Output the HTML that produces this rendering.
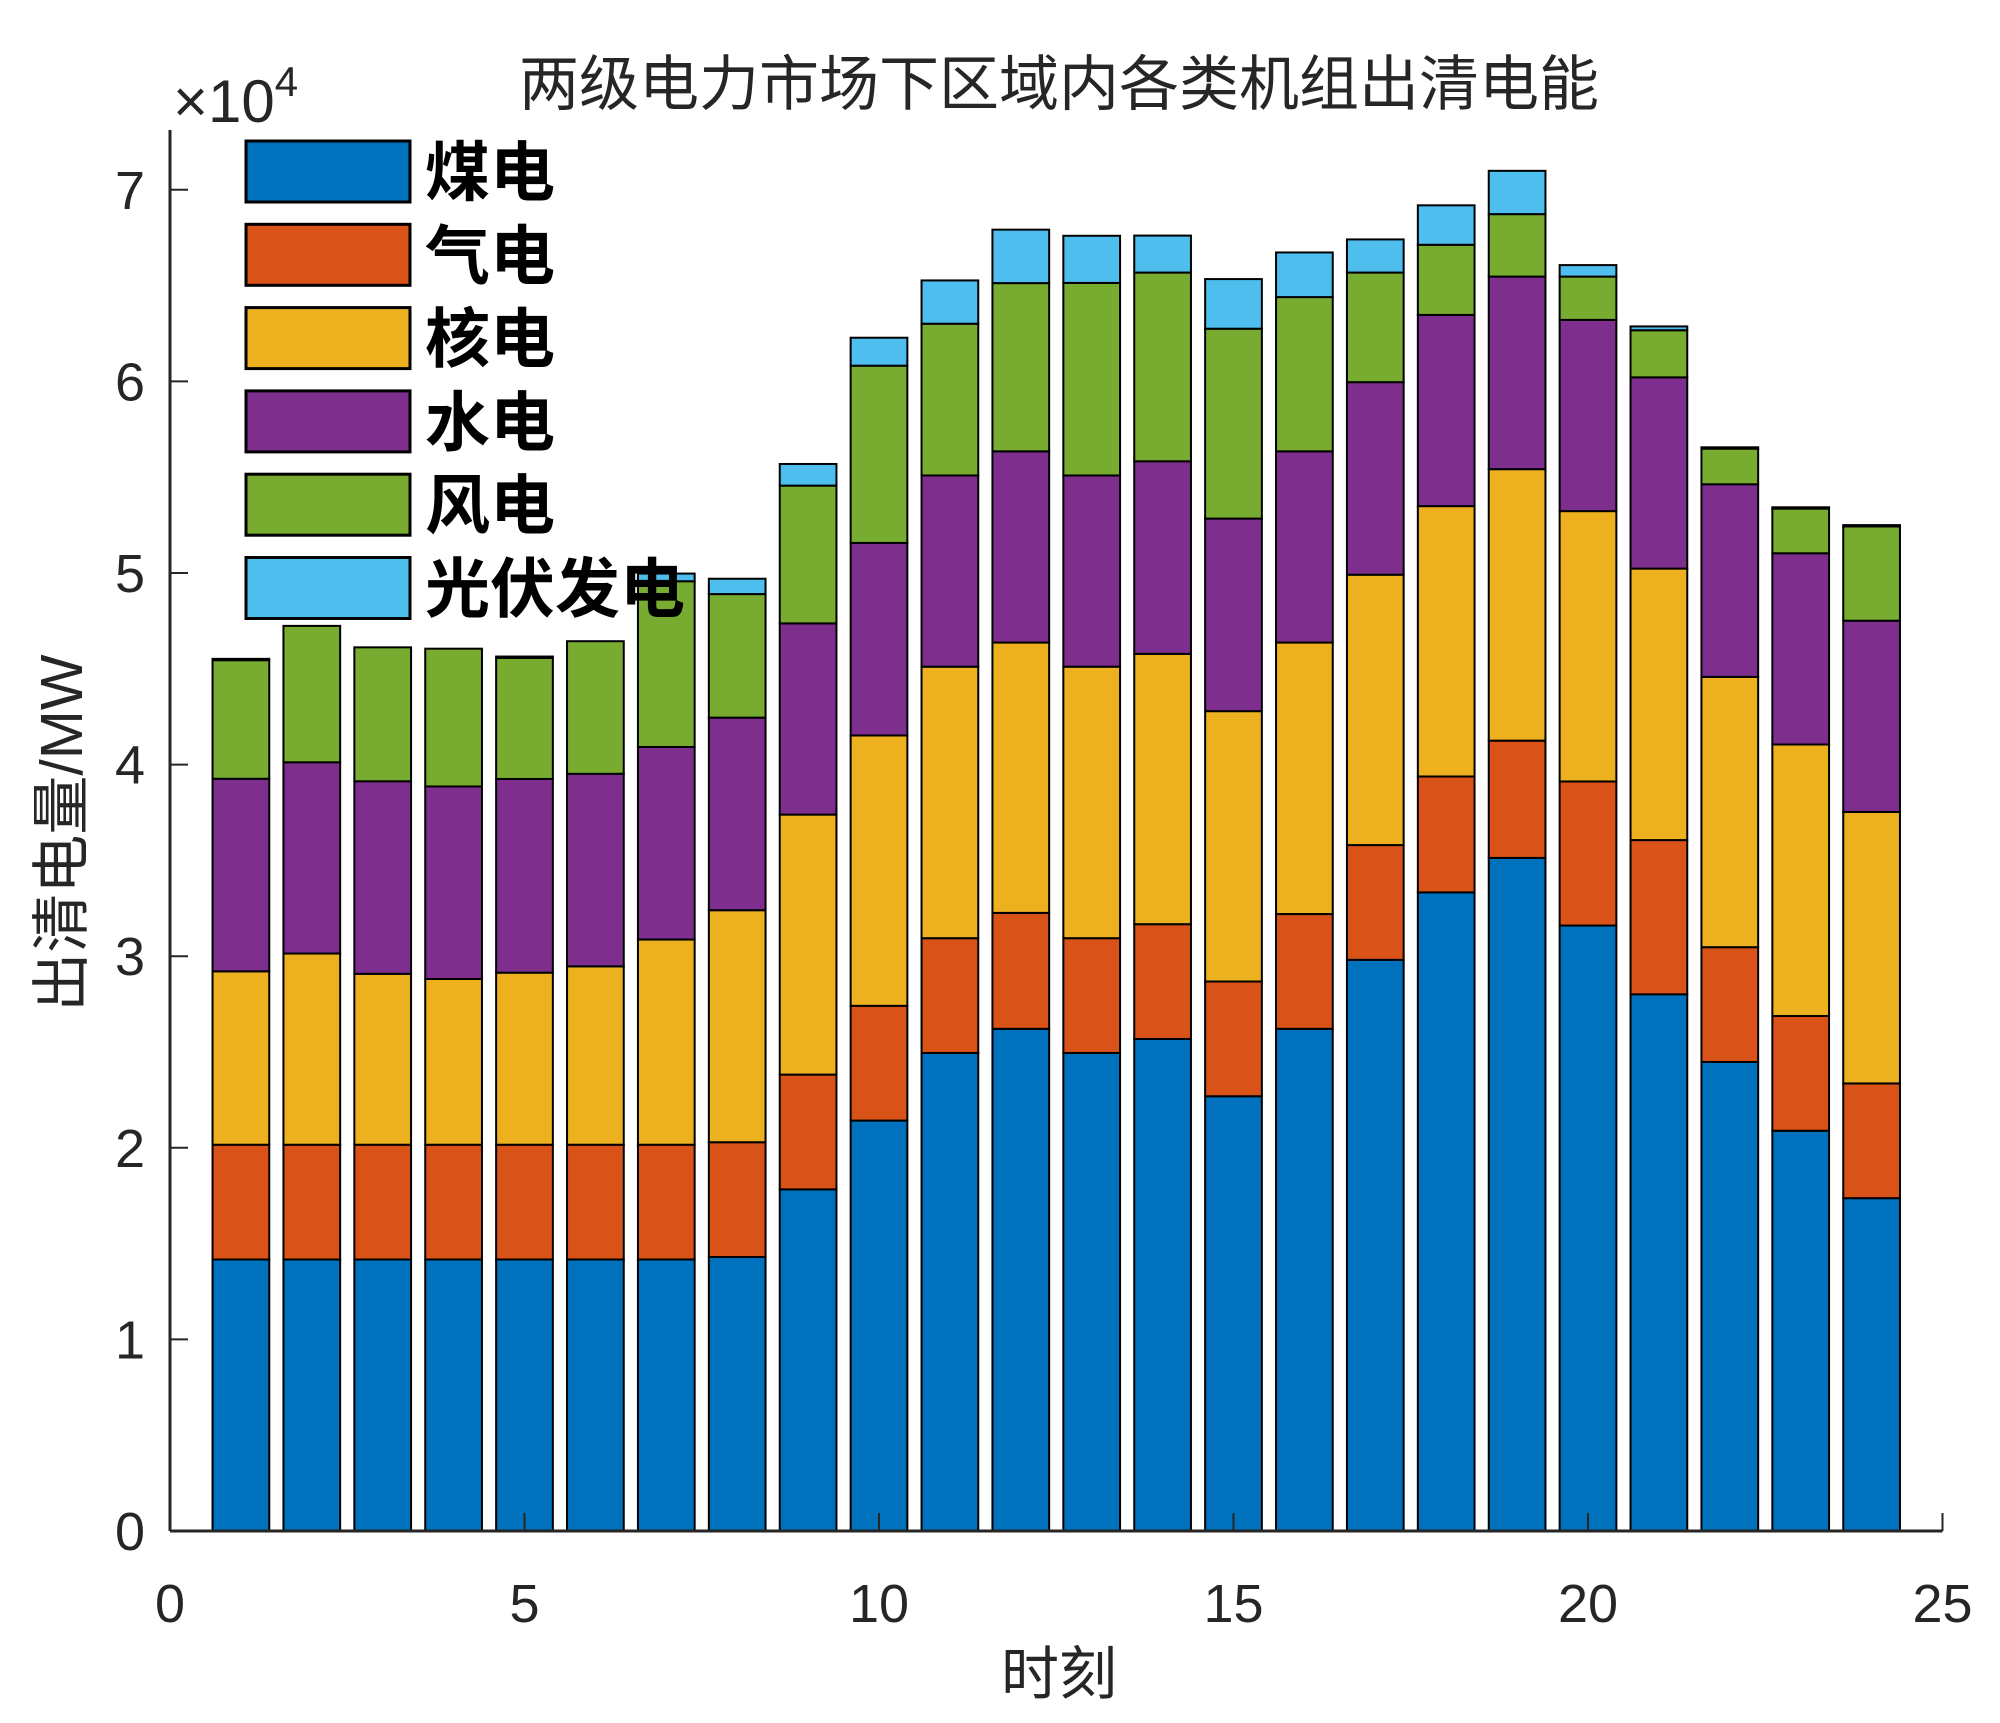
<!DOCTYPE html>
<html><head><meta charset="utf-8"><style>
html,body{margin:0;padding:0;background:#fff}
svg{display:block}
text{font-family:"Liberation Sans","Noto Sans CJK SC",sans-serif;fill:#262626}
</style></head><body>
<svg id="chart" width="2000" height="1723" viewBox="0 0 2000 1723" xmlns="http://www.w3.org/2000/svg">
<g id="bars"></g>
<g id="axes"></g>
<g id="legend"></g>
</svg>
<script>
const hours = [1,2,3,4,5,6,7,8,9,10,11,12,13,14,15,16,17,18,19,20,21,22,23,24];
const coal = [14170,14170,14170,14170,14170,14170,14170,14300,17830,21420,24950,26210,24950,25680,22690,26210,29810,33330,35130,31600,28010,24480,20890,17370];
const gas = [5990,5990,5990,5990,5990,5990,5990,5990,5990,5990,5990,6050,5990,5990,5990,5990,5990,6050,6120,7520,8050,5990,5990,5990];
const nuclear = [9050,9980,8920,8650,8980,9310,10710,12110,13570,14110,14170,14110,14170,14110,14110,14170,14110,14110,14170,14110,14170,14110,14170,14170];
const hydro = [10050,9980,10050,10050,10110,10050,10050,10050,9980,10050,9980,9980,9980,10050,10050,9980,10050,9980,10050,9980,9980,10050,9980,9980];
const wind = [6190,7120,6990,7190,6320,6920,8650,6450,7190,9250,7920,8780,10050,9850,9910,8050,5720,3660,3260,2260,2460,1860,2330,4920];
const solar = [70,0,0,0,70,0,400,800,1130,1460,2260,2790,2460,1930,2590,2330,1730,2060,2260,600,200,70,70,70];
const series = [coal, gas, nuclear, hydro, wind, solar];
const seriesNames = ["煤电","气电","核电","水电","风电","光伏发电"];
const seriesKeys = ["coal","gas","nuclear","hydro","wind","solar"];
const colors = ["#0072BD","#D95319","#EDB120","#7E2F8E","#77AC30","#4DBEEE"];
const xTicks = [0,5,10,15,20,25];
const yTicks = [0,1,2,3,4,5,6,7];

const NS = "http://www.w3.org/2000/svg";
const X0 = 170, XS = 70.9, Y0 = 1531, YS = 191.6/10000;
const xs = v => X0 + v*XS;
const ys = v => Y0 - v*YS;
function mk(tag, attrs, parent){const e=document.createElementNS(NS,tag);for(const k in attrs)e.setAttribute(k,attrs[k]);parent.appendChild(e);return e;}

const gb = document.getElementById('bars');
hours.forEach((h,i)=>{
  let base = 0;
  series.forEach((s,j)=>{
    const top = base + s[i];
    const r = mk('rect',{x:xs(h-0.4),y:ys(top),width:0.8*XS,height:Math.max(ys(base)-ys(top),0),fill:colors[j],stroke:'#000','stroke-width':2},gb);
    
    
    base = top;
  });
});

const ga = document.getElementById('axes');
let l = mk('line',{x1:X0,y1:Y0,x2:xs(25),y2:Y0,stroke:'#262626','stroke-width':3},ga);


l = mk('line',{x1:X0,y1:Y0,x2:X0,y2:130,stroke:'#262626','stroke-width':3},ga);


xTicks.forEach(t=>{
  mk('line',{x1:xs(t),y1:Y0,x2:xs(t),y2:Y0-18,stroke:'#262626','stroke-width':2},ga);
  const tx = mk('text',{x:xs(t),y:1622,'text-anchor':'middle','font-size':54},ga);
  tx.textContent = t;
  
  
});
yTicks.forEach(t=>{
  mk('line',{x1:X0,y1:ys(t*10000),x2:X0+18,y2:ys(t*10000),stroke:'#262626','stroke-width':2},ga);
  const tx = mk('text',{x:145,y:ys(t*10000)+19,'text-anchor':'end','font-size':54},ga);
  tx.textContent = t;
  
  
});
let t = mk('text',{x:173,y:122,'font-size':60},ga);
t.innerHTML = '×10<tspan dy="-26" font-size="42">4</tspan>';


t = mk('text',{x:1059,y:105,'text-anchor':'middle','font-size':60},ga);
t.textContent = '两级电力市场下区域内各类机组出清电能';


t = mk('text',{x:1059,y:1694,'text-anchor':'middle','font-size':58},ga);
t.textContent = '时刻';


t = mk('text',{x:0,y:0,'text-anchor':'middle','font-size':59,transform:'translate(82,833) rotate(-90)'},ga);
t.textContent = '出清电量/MW';



const gl = document.getElementById('legend');
seriesNames.forEach((n,j)=>{
  const y = 141 + j*83.3;
  const r = mk('rect',{x:246,y:y,width:164,height:61,fill:colors[j],stroke:'#000','stroke-width':3},gl);
  
  
  const tx = mk('text',{x:425,y:y+54,'font-size':65,'font-weight':'bold',style:'fill:#000'},gl);
  tx.textContent = n;
  
  
});
</script>
</body></html>
